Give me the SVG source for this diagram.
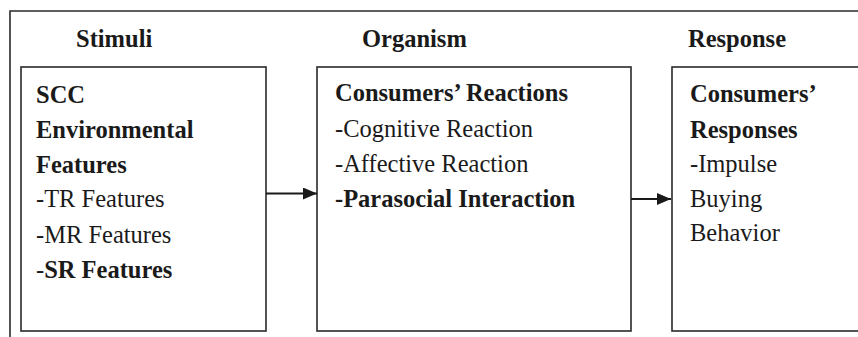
<svg xmlns="http://www.w3.org/2000/svg" width="858" height="337" viewBox="0 0 858 337">
<defs>
<style>
.frame{fill:none;stroke:#2a2a2a;stroke-width:1.6}
.box{fill:#fff;stroke:#2a2a2a;stroke-width:1.6}
.conn{stroke:#1a1a1a;stroke-width:2.2;fill:none}
</style>
<marker id="ah" viewBox="0 0 14 12" refX="14" refY="6" markerWidth="14" markerHeight="12" markerUnits="userSpaceOnUse" orient="auto">
<path d="M0,0 L14,6 L0,12 Z" fill="#1a1a1a"/>
</marker>
</defs>
<rect width="858" height="337" fill="#fff"/>
<path class="frame" d="M10,337 V11 H858"/>
<g font-family="'Liberation Serif', 'Times New Roman', serif" font-size="24.5" fill="#1a1a1a">
<g id="headers" font-weight="bold">
<text x="76" y="47">Stimuli</text>
<text x="362" y="47">Organism</text>
<text x="688" y="47">Response</text>
</g>
<g id="stimuli">
<rect class="box" x="21" y="67" width="245" height="264"/>
<text font-weight="bold" x="36" y="103">SCC</text>
<text font-weight="bold" x="36" y="138">Environmental</text>
<text font-weight="bold" x="36" y="173">Features</text>
<text x="36" y="207">-TR Features</text>
<text x="36" y="243">-MR Features</text>
<text x="36" y="278">-<tspan font-weight="bold">SR Features</tspan></text>
</g>
<g id="organism">
<rect class="box" x="317" y="67" width="314" height="264"/>
<text font-weight="bold" x="335" y="101">Consumers’ Reactions</text>
<text x="335" y="137">-Cognitive Reaction</text>
<text x="335" y="172">-Affective Reaction</text>
<text font-weight="bold" x="335" y="207">-Parasocial Interaction</text>
</g>
<g id="response">
<rect class="box" x="672" y="67" width="200" height="264"/>
<text font-weight="bold" x="690" y="102">Consumers’</text>
<text font-weight="bold" x="690" y="138">Responses</text>
<text x="690" y="172">-Impulse</text>
<text x="690" y="207">Buying</text>
<text x="690" y="241">Behavior</text>
</g>
</g>
<g id="connectors">
<line class="conn" x1="266" y1="193.5" x2="317" y2="193.5" marker-end="url(#ah)"/>
<line class="conn" x1="631" y1="199" x2="671" y2="199" marker-end="url(#ah)"/>
</g>
</svg>
